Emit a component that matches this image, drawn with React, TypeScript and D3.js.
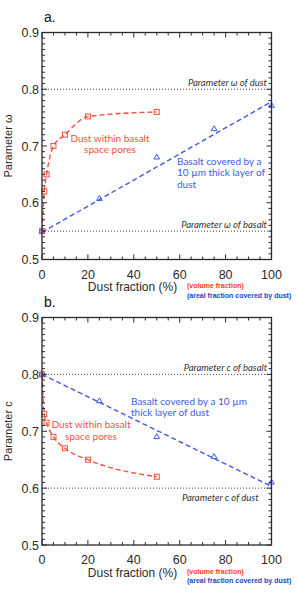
import React from 'react';
import * as d3 from 'd3';

// dust fraction values (%) used by both panels
const volumeFraction = [0, 1, 2, 5, 10, 20, 50];
const arealFraction = [0, 25, 50, 75, 100];
const fitFraction = [0, 100];

// panel a: parameter omega
const poresOmega = [0.55, 0.62, 0.65, 0.70, 0.72, 0.752, 0.76];
const layerOmega = [0.55, 0.607, 0.68, 0.73, 0.771];
const layerOmegaFit = [0.548, 0.778];

// panel b: parameter c
const poresC = [0.80, 0.73, 0.715, 0.69, 0.67, 0.65, 0.62];
const layerC = [0.80, 0.753, 0.69, 0.655, 0.61];
const layerCFit = [0.80, 0.603];

const xMajorTicks = [0, 20, 40, 60, 80, 100];
const yMajorTicks = [0.5, 0.6, 0.7, 0.8, 0.9];

const RED = '#f0503f';
const BLUE = '#3f5ae6';
const AXIS = '#2a2a2a';
const SANS = '"Liberation Sans", Arial, sans-serif';
const HUMAN = 'Lato, "Open Sans", sans-serif';

const x = d3.scaleLinear().domain([0, 100]).range([42, 271.5]);

type RefLine = { value: number; label: string; anchor: 'start' | 'end'; tx: number; dy: number };

type PanelProps = {
  top: number;
  bottom: number;
  letter: string;
  yLabel: string;
  pores: number[];
  layer: number[];
  layerFit: number[];
  refLines: RefLine[];
  poresText: { lines: string[]; x: number; y: number };
  layerText: { lines: string[]; x: number; y: number };
};

function Panel(props: PanelProps) {
  const { top, bottom, letter, yLabel, pores, layer, layerFit, refLines, poresText, layerText } = props;
  const y = d3.scaleLinear().domain([0.5, 0.9]).range([bottom, top]);
  const [x0, x1] = x.range();

  const poresPts: [number, number][] = volumeFraction.map((d, i) => [x(d), y(pores[i])]);
  const layerPts: [number, number][] = arealFraction.map((d, i) => [x(d), y(layer[i])]);
  const fitPts: [number, number][] = fitFraction.map((d, i) => [x(d), y(layerFit[i])]);

  const curve = d3.line().curve(d3.curveMonotoneX);
  const straight = d3.line();
  const tri = d3.symbol().type(d3.symbolTriangle).size(14)();

  const xMinor = d3.range(0, 100.01, 5);
  const yMinor = d3.range(0.5, 0.9001, 0.01);

  return (
    <g>
      <text x={44} y={top - 11} fontFamily={SANS} fontSize={14} fill="#111">{letter}</text>

      {/* reference values */}
      {refLines.map((r, i) => (
        <g key={i}>
          <line x1={x0} x2={x1} y1={y(r.value)} y2={y(r.value)} stroke="#444" strokeWidth={1} strokeDasharray="1,2" />
          <text x={r.tx} y={y(r.value) + r.dy} textAnchor={r.anchor} fontFamily={HUMAN} fontStyle="italic"
            fontSize={9.5} fill="#333">{r.label}</text>
        </g>
      ))}

      {/* fits */}
      <path d={curve(poresPts) || ''} fill="none" stroke={RED} strokeWidth={1.4} strokeDasharray="5,3" />
      <path d={straight(fitPts) || ''} fill="none" stroke={BLUE} strokeWidth={1.4} strokeDasharray="5,3" />

      {/* markers */}
      {poresPts.map((p, i) => (
        <rect key={'s' + i} x={p[0] - 2.5} y={p[1] - 2.5} width={5} height={5} fill="none" stroke={RED} strokeWidth={1} />
      ))}
      {layerPts.map((p, i) => (
        <path key={'t' + i} d={tri || ''} transform={`translate(${p[0]},${p[1]})`} fill="none" stroke={BLUE} strokeWidth={1} />
      ))}

      {/* annotations */}
      <text fontFamily={HUMAN} fontSize={10} fill={RED} textAnchor="middle">
        {poresText.lines.map((l, i) => (
          <tspan key={i} x={poresText.x} y={poresText.y + i * 11.5}>{l}</tspan>
        ))}
      </text>
      <text fontFamily={HUMAN} fontSize={10} fill={BLUE}>
        {layerText.lines.map((l, i) => (
          <tspan key={i} x={layerText.x} y={layerText.y + i * 11.5}>{l}</tspan>
        ))}
      </text>

      {/* frame and ticks */}
      <rect x={x0} y={top} width={x1 - x0} height={bottom - top} fill="none" stroke={AXIS} strokeWidth={1.3} />
      {xMinor.map((t) => {
        const len = xMajorTicks.includes(Math.round(t)) ? 5 : 3;
        return (
          <g key={'xt' + t}>
            <line x1={x(t)} x2={x(t)} y1={bottom} y2={bottom - len} stroke={AXIS} strokeWidth={1} />
            <line x1={x(t)} x2={x(t)} y1={top} y2={top + len} stroke={AXIS} strokeWidth={1} />
          </g>
        );
      })}
      {yMinor.map((t, i) => {
        const len = i % 10 === 0 ? 5 : 3;
        return (
          <g key={'yt' + i}>
            <line x1={x0} x2={x0 + len} y1={y(t)} y2={y(t)} stroke={AXIS} strokeWidth={1} />
            <line x1={x1} x2={x1 - len} y1={y(t)} y2={y(t)} stroke={AXIS} strokeWidth={1} />
          </g>
        );
      })}
      {xMajorTicks.map((t) => (
        <text key={'xl' + t} x={x(t)} y={bottom + 19} textAnchor="middle" fontFamily={SANS} fontSize={12.5} fill={AXIS}>{t}</text>
      ))}
      {yMajorTicks.map((t) => (
        <text key={'yl' + t} x={x0 - 3} y={y(t) + 4.5} textAnchor="end" fontFamily={SANS} fontSize={12.5} fill={AXIS}>{t.toFixed(1)}</text>
      ))}

      <text x={9} y={(top + bottom) / 2} transform={`rotate(-90 9 ${(top + bottom) / 2})`} textAnchor="middle"
        dominantBaseline="middle" fontFamily={SANS} fontSize={11} fill={AXIS}>{yLabel}</text>
      <text x={132.5} y={bottom + 31.5} textAnchor="middle" fontFamily={SANS} fontSize={12} fill={AXIS}>Dust fraction (%)</text>
      <text x={187} y={bottom + 28.5} fontFamily={SANS} fontWeight="bold" fontSize={7} fill="#ff3a1a">(volume fraction)</text>
      <text x={187} y={bottom + 38} fontFamily={SANS} fontWeight="bold" fontSize={7} fill="#2246c8">(areal fraction covered by dust)</text>
    </g>
  );
}

export default function App() {
  return (
    <svg width={298} height={592} style={{ position: 'absolute', left: 0, top: 0, background: '#fff' }}>
      <Panel
        top={32.5}
        bottom={259.5}
        letter="a."
        yLabel="Parameter ω"
        pores={poresOmega}
        layer={layerOmega}
        layerFit={layerOmegaFit}
        refLines={[
          { value: 0.8, label: 'Parameter ω of dust', anchor: 'end', tx: 267, dy: -3 },
          { value: 0.55, label: 'Parameter ω of basalt', anchor: 'end', tx: 267, dy: -3 },
        ]}
        poresText={{ lines: ['Dust within basalt', 'space pores'], x: 110, y: 141.5 }}
        layerText={{ lines: ['Basalt covered by a', '10 µm thick layer of', 'dust'], x: 177, y: 164.5 }}
      />
      <Panel
        top={317.5}
        bottom={545}
        letter="b."
        yLabel="Parameter c"
        pores={poresC}
        layer={layerC}
        layerFit={layerCFit}
        refLines={[
          { value: 0.8, label: 'Parameter c of basalt', anchor: 'end', tx: 267, dy: -3 },
          { value: 0.6, label: 'Parameter c of dust', anchor: 'start', tx: 182, dy: 13 },
        ]}
        poresText={{ lines: ['Dust within basalt', 'space pores'], x: 91, y: 428 }}
        layerText={{ lines: ['Basalt covered by a 10 µm', 'thick layer of dust'], x: 131, y: 404.5 }}
      />
    </svg>
  );
}
